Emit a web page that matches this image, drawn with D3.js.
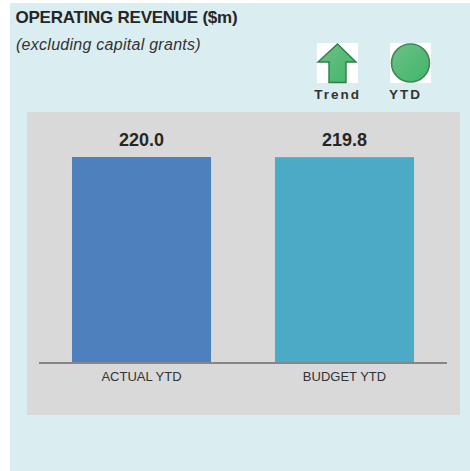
<!DOCTYPE html>
<html><head><meta charset="utf-8">
<script src="https://cdn.jsdelivr.net/npm/d3@7"></script>
<style>html,body{margin:0;padding:0;background:#fff}svg{display:block}</style>
</head><body><svg id="c" width="470" height="471"></svg>
<script>
const categories = ["ACTUAL YTD", "BUDGET YTD"];
const values = [220.0, 219.8];
const barColors = ["#4d80bd", "#4babc6"];
const titleText = "OPERATING REVENUE ($m)";
const subtitleText = "(excluding capital grants)";
const statusLabels = ["Trend", "YTD"];

const svg = d3.select("#c");
const font = "Liberation Sans, Arial, sans-serif";
svg.append("rect").attr("x",10).attr("y",3).attr("width",460).attr("height",468).attr("fill","#daedf1");
svg.append("rect").attr("x",27).attr("y",112).attr("width",433).attr("height",303).attr("fill","#d9d9d9");

svg.append("text").attr("x",15.5).attr("y",23).text(titleText)
  .attr("font-family",font).attr("font-size",17).attr("font-weight","bold").attr("fill","#262626").attr("letter-spacing",-0.25);
svg.append("text").attr("x",16).attr("y",50).text(subtitleText)
  .attr("font-family",font).attr("font-size",16).attr("font-style","italic").attr("fill","#333").attr("letter-spacing",0.27);

const x = d3.scaleBand().domain(categories).range([40,446]).paddingInner(0.315).paddingOuter(0.1575);
const y = d3.scaleLinear().domain([0,220]).range([362,157]);

svg.selectAll("rect.bar").data(values).join("rect").attr("class","bar")
  .attr("x",(d,i)=>x(categories[i])).attr("y",d=>y(d))
  .attr("width",x.bandwidth()).attr("height",d=>y(0)-y(d)).attr("fill",(d,i)=>barColors[i]);

svg.selectAll("text.val").data(values).join("text").attr("class","val")
  .attr("x",(d,i)=>x(categories[i])+x.bandwidth()/2).attr("y",d=>y(d)-11.5)
  .attr("text-anchor","middle").attr("font-family",font).attr("font-size",18).attr("font-weight","bold").attr("fill","#262626")
  .text(d=>d.toFixed(1));

const axis = svg.append("g").attr("transform","translate(0,363)")
  .call(d3.axisBottom(x).tickSize(0).tickPadding(9));
axis.select(".domain").attr("d","M39,0H447").attr("stroke","#868686").attr("stroke-width",2);
axis.selectAll("text").attr("font-family",font).attr("font-size",13).attr("fill","#333");

const defs = svg.append("defs");
const g = defs.append("linearGradient").attr("id","gr").attr("x1",0).attr("y1",0).attr("x2",1).attr("y2",1);
g.append("stop").attr("offset",0).attr("stop-color","#6fc088");
g.append("stop").attr("offset",1).attr("stop-color","#3fb668");

// status icons
const icons = svg.selectAll("g.icon").data(statusLabels).join("g").attr("class","icon")
  .attr("transform",(d,i)=>`translate(${i?390:317},43)`);
icons.append("rect").attr("width",41).attr("height",40).attr("fill","#fff");
icons.filter((d,i)=>i===0).append("path")
  .attr("d",d3.line()([[20.5,1],[39,19],[29,19],[29,39.5],[12,39.5],[12,19],[1,19]])+"Z")
  .attr("fill","url(#gr)").attr("stroke","#2f7d46").attr("stroke-width",1.4);
icons.filter((d,i)=>i===1).append("circle").attr("cx",20.5).attr("cy",20).attr("r",19)
  .attr("fill","url(#gr)").attr("stroke","#3d8a58").attr("stroke-width",1.6);
icons.append("text").attr("x",(d,i)=>i?15.5:20.5).attr("y",55.5).attr("text-anchor","middle")
  .attr("font-family",font).attr("font-size",13.5).attr("font-weight","bold").attr("fill","#333").attr("letter-spacing",2)
  .text(d=>d);
</script></body></html>
